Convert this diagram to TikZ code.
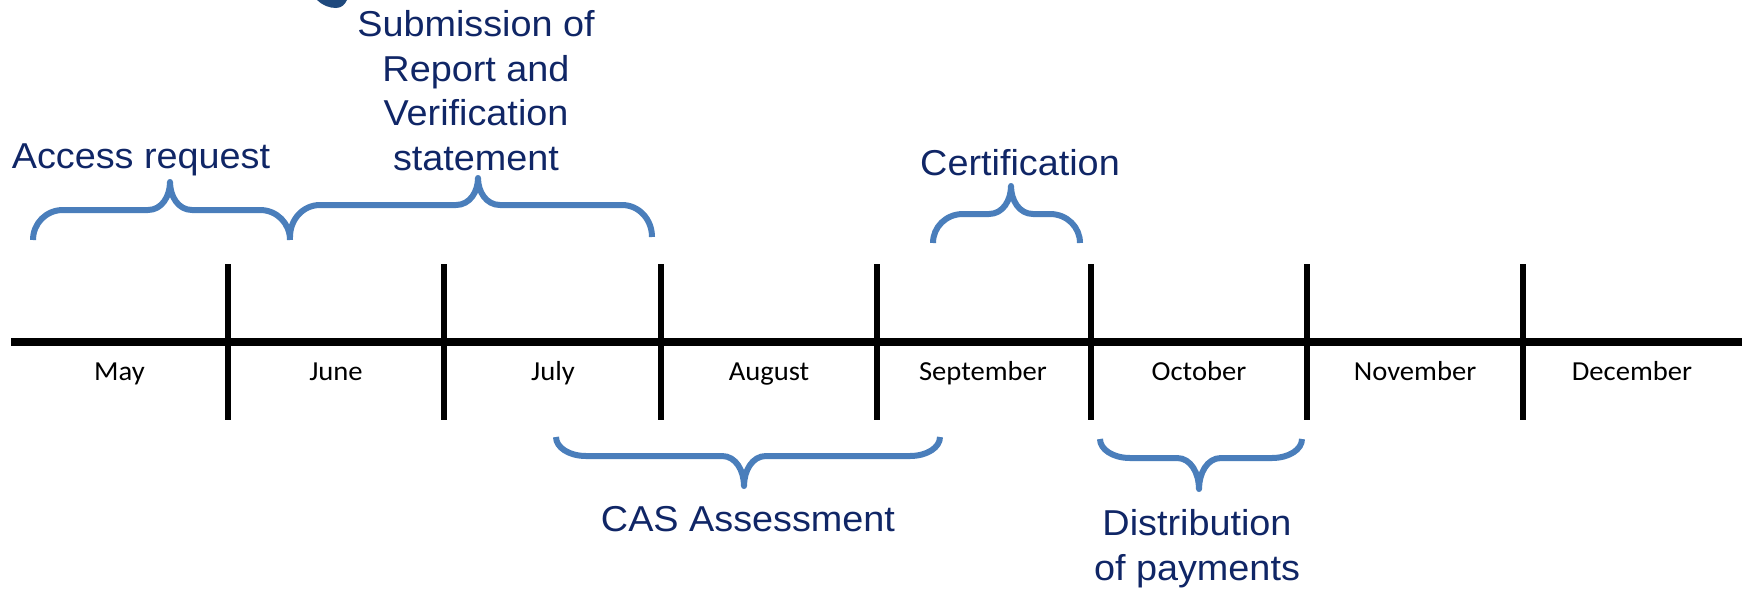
\documentclass[tikz,border=0pt]{standalone}
\usepackage{fontspec}
\newfontfamily\arialfont[FakeStretch=1.05]{Liberation Sans}
\newfontfamily\calfont[FakeStretch=1.04]{Carlito}
\definecolor{navy}{RGB}{16,38,102}
\definecolor{braceblue}{RGB}{74,126,187}
\definecolor{blobblue}{RGB}{31,73,125}
\newcommand{\bracepath}[6]{%
  (#1,#3) .. controls (#1,{#4+0.45*(#3-#4)}) and (#1+13,#4) .. (#1+30,#4)
  -- (#5-22,#4) .. controls (#5-8,#4) and (#5,{#4+0.5*(#6-#4)}) .. (#5,#6)
  .. controls (#5,{#4+0.5*(#6-#4)}) and (#5+8,#4) .. (#5+22,#4)
  -- (#2-30,#4) .. controls (#2-13,#4) and (#2,{#4+0.45*(#3-#4)}) .. (#2,#3)}
\begin{document}
\begin{tikzpicture}[x=1pt,y=-1pt,
  txt/.style={inner sep=0pt, anchor=base, text=navy, align=center,
    font=\arialfont\fontsize{36}{44.5}\selectfont},
  month/.style={inner sep=0pt, anchor=base, text=black,
    font=\calfont\fontsize{27.5}{32}\selectfont},
  brace/.style={draw=braceblue, line width=6pt, line join=round},
  axisline/.style={draw=black, line width=8pt},
  tickline/.style={draw=black, line width=6pt}]
\useasboundingbox (0,0) rectangle (1742,592);
% fragment of an outer shape at the top
\fill[blobblue] (317,0) .. controls (322,5) and (329,8) .. (336,8)
  .. controls (342,8) and (345,4) .. (347,0) -- cycle;
% axis
\coordinate (axL) at (11,342);
\coordinate (axR) at (1742,342);
\draw[axisline] (axL) -- (axR);
\foreach \x [count=\i] in {227.8,444.4,661.1,876.6,1091,1306.6,1523.3}{
  \coordinate (t\i a) at (\x,264);
  \coordinate (t\i b) at (\x,420);
  \draw[tickline] (t\i a) -- (t\i b);
}
% months
\node[month] (may) at (119.5,380) {May};
\node[month] (jun) at (336,380) {June};
\node[month] (jul) at (553,380) {July};
\node[month] (aug) at (769,380) {August};
\node[month] (sep) at (983,380) {September};
\node[month] (oct) at (1199,380) {October};
\node[month] (nov) at (1415,380) {November};
\node[month] (dec) at (1632,380) {December};
% braces
\draw[brace] \bracepath{33}{290}{240}{210}{170}{182};
\draw[brace] \bracepath{290}{652}{237}{205}{478}{178};
\draw[brace] \bracepath{933}{1080}{243}{214}{1011}{186};
\draw[brace] \bracepath{556}{940}{437}{456}{744}{486};
\draw[brace] \bracepath{1100}{1302}{439}{458}{1199}{489};
% labels
\node[txt] (access) at (141,168) {Access request};
\node[txt] (submission) at (476,170) {Submission of\\Report and\\Verification\\statement};
\node[txt] (cert) at (1020,175.5) {Certification};
\node[txt] (cas) at (748,531) {CAS Assessment};
\node[txt] (dist) at (1197,580) {Distribution\\of payments};
\end{tikzpicture}
\end{document}
